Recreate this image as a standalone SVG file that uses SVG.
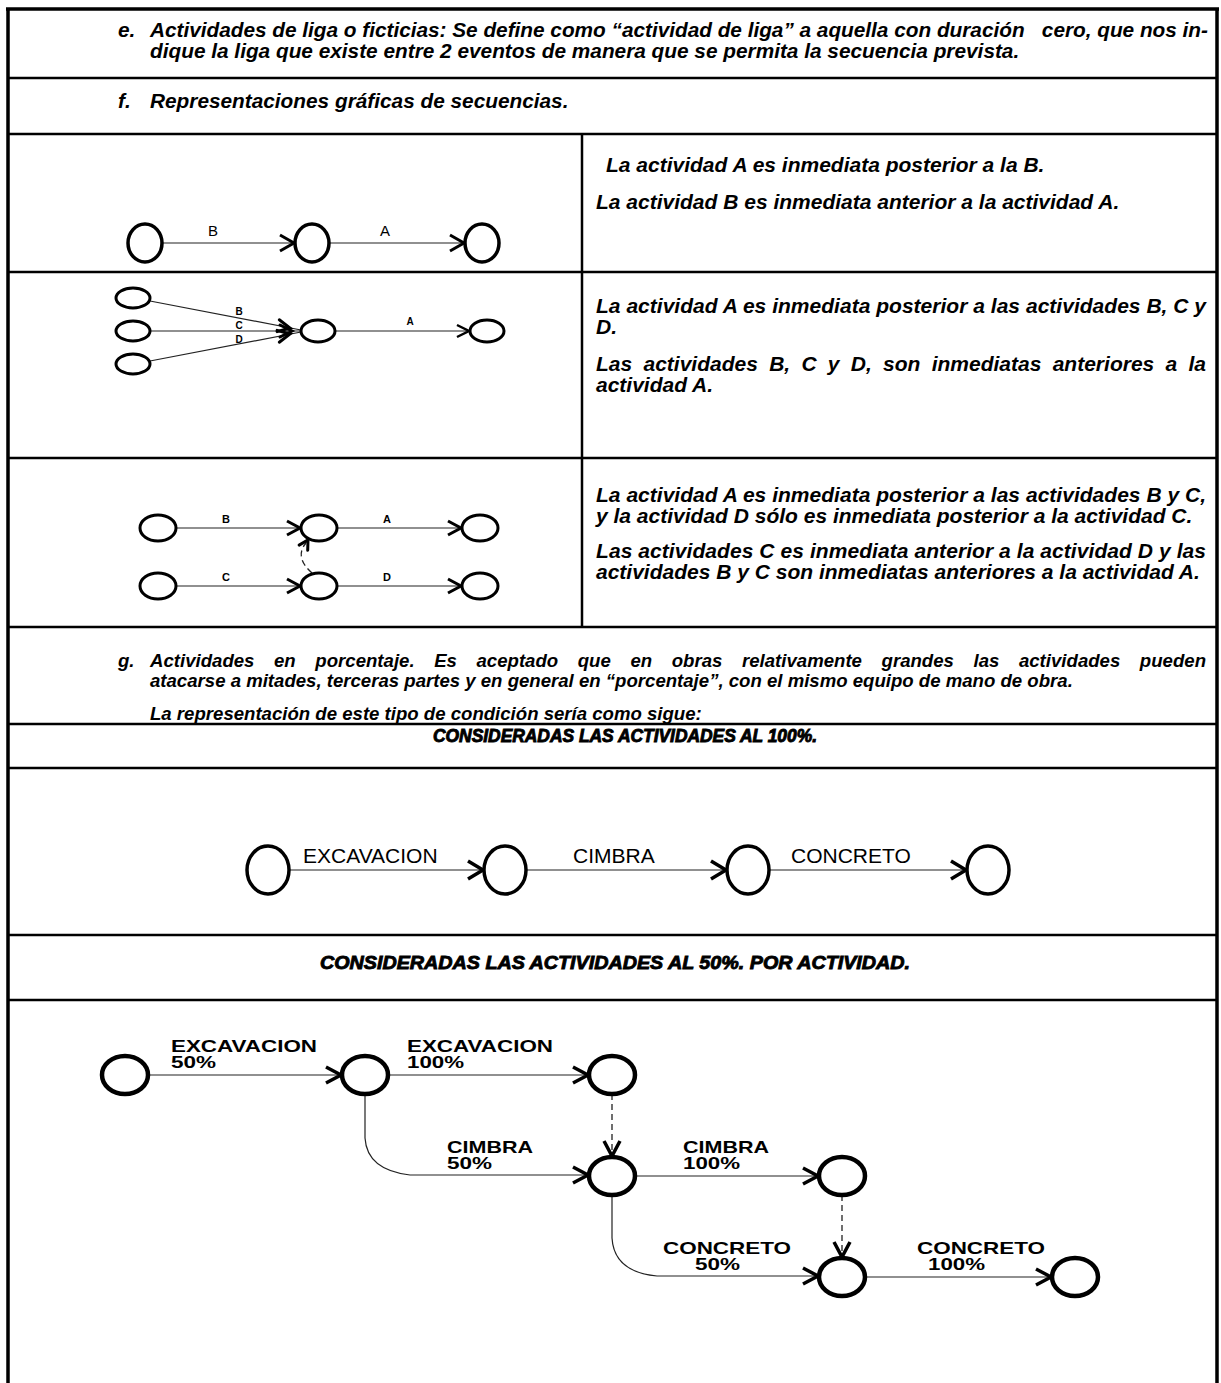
<svg xmlns="http://www.w3.org/2000/svg" width="1221" height="1383" viewBox="0 0 1221 1383">
<style>
.frame{stroke:#000;stroke-width:2.5;fill:none}
.border{stroke:#000;stroke-width:3.5;fill:none}
.t{font-family:"Liberation Sans",Arial,sans-serif;font-weight:bold;font-style:italic;font-size:20.8px;fill:#000}
.r{font-size:21px}
.g{font-size:18.6px}
.h{font-family:"Liberation Sans",Arial,sans-serif;font-weight:bold;font-style:italic;fill:#000;stroke:#000;stroke-width:0.9;text-anchor:middle}
.n1{fill:#fff;stroke:#000;stroke-width:3.5}
.n2{fill:#fff;stroke:#000;stroke-width:3}
.n5{fill:#fff;stroke:#000;stroke-width:4.5}
.c{fill:none;stroke:#222;stroke-width:1.2}
.d{fill:none;stroke:#222;stroke-width:1.3;stroke-dasharray:6 4}
.hd{fill:none;stroke:#000;stroke-width:3;stroke-linecap:round;stroke-linejoin:miter}
.l1{font-family:"Liberation Sans",Arial,sans-serif;font-size:15px;fill:#000;text-anchor:middle}
.l2{font-family:"Liberation Sans",Arial,sans-serif;font-size:10px;font-weight:bold;fill:#000;text-anchor:middle}
.l3{font-family:"Liberation Sans",Arial,sans-serif;font-size:11px;font-weight:bold;fill:#000;text-anchor:middle}
.l4{font-family:"Liberation Sans",Arial,sans-serif;font-size:21px;fill:#000}
.l5{font-family:"Liberation Sans",Arial,sans-serif;font-size:16.5px;font-weight:bold;fill:#000}
</style>
<defs>
<marker id="a1" viewBox="-2 -2 22 22" markerWidth="22" markerHeight="22" refX="16" refY="9" orient="auto" markerUnits="userSpaceOnUse"><path d="M2,1 L16,9 L2,17" fill="none" stroke="#000" stroke-width="3"/></marker>
<marker id="a2" viewBox="-2 -2 20 20" markerWidth="20" markerHeight="20" refX="13" refY="7" orient="auto" markerUnits="userSpaceOnUse"><path d="M1,1 L13,7 L1,13" fill="none" stroke="#000" stroke-width="2.5"/></marker>
<marker id="a3" viewBox="-2 -2 20 20" markerWidth="20" markerHeight="20" refX="14" refY="8" orient="auto" markerUnits="userSpaceOnUse"><path d="M1,1 L14,8 L1,15" fill="none" stroke="#000" stroke-width="3"/></marker>
<marker id="a4" viewBox="-2 -2 24 24" markerWidth="24" markerHeight="24" refX="17" refY="10" orient="auto" markerUnits="userSpaceOnUse"><path d="M2,1 L17,10 L2,19" fill="none" stroke="#000" stroke-width="3.5"/></marker>
<marker id="a5" viewBox="-2 -2 24 24" markerWidth="24" markerHeight="24" refX="17" refY="9" orient="auto" markerUnits="userSpaceOnUse"><path d="M2,1 L17,9 L2,17" fill="none" stroke="#000" stroke-width="3.5"/></marker>
</defs>
<rect width="1221" height="1383" fill="#fff"/>

<g id="frame">
<path class="border" d="M6,9 H1219 M8,8 V1383 M1217,8 V1383"/>
<path class="frame" d="M8,78 H1217 M8,134 H1217 M8,272 H1217 M8,458 H1217 M8,627 H1217 M8,724 H1217 M8,768 H1217 M8,935 H1217 M8,1000 H1217 M582,134 V627"/>
</g>

<g id="texts">
<text class="t" x="118" y="37">e.</text>
<text class="t" x="150" y="37" xml:space="preserve" textLength="1058" lengthAdjust="spacing">Actividades de liga o ficticias: Se define como “actividad de liga” a aquella con duración   cero, que nos in-</text>
<text class="t" x="150" y="58">dique la liga que existe entre 2 eventos de manera que se permita la secuencia prevista.</text>
<text class="t" x="118" y="108">f.</text>
<text class="t" x="150" y="108">Representaciones gráficas de secuencias.</text>

<text class="t r" x="606" y="172">La actividad A es inmediata posterior a la B.</text>
<text class="t r" x="596" y="209">La actividad B es inmediata anterior a la actividad A.</text>

<text class="t r" x="596" y="313" textLength="610" lengthAdjust="spacing">La actividad A es inmediata posterior a las actividades B, C y</text>
<text class="t r" x="596" y="334">D.</text>
<text class="t r" x="596" y="371" word-spacing="5.4" textLength="610" lengthAdjust="spacing">Las actividades B, C y D, son inmediatas anteriores a la</text>
<text class="t r" x="596" y="392">actividad A.</text>

<text class="t r" x="596" y="502" textLength="610" lengthAdjust="spacing">La actividad A es inmediata posterior a las actividades B y C,</text>
<text class="t r" x="596" y="523">y la actividad D sólo es inmediata posterior a la actividad C.</text>
<text class="t r" x="596" y="558" textLength="610" lengthAdjust="spacing">Las actividades C es inmediata anterior a la actividad D y las</text>
<text class="t r" x="596" y="579">actividades B y C son inmediatas anteriores a la actividad A.</text>

<text class="t g" x="118" y="667">g.</text>
<text class="t g" x="150" y="667" word-spacing="14.4" textLength="1056" lengthAdjust="spacing">Actividades en porcentaje. Es aceptado que en obras relativamente grandes las actividades pueden</text>
<text class="t g" x="150" y="687">atacarse a mitades, terceras partes y en general en “porcentaje”, con el mismo equipo de mano de obra.</text>
<text class="t g" x="150" y="720">La representación de este tipo de condición sería como sigue:</text>

<text class="h" x="625" y="742" font-size="17.5" textLength="384" lengthAdjust="spacingAndGlyphs">CONSIDERADAS LAS ACTIVIDADES AL 100%.</text>
<text class="h" x="615" y="969" font-size="19" textLength="590" lengthAdjust="spacingAndGlyphs">CONSIDERADAS LAS ACTIVIDADES AL 50%. POR ACTIVIDAD.</text>
</g>

<g id="connectors">
<path class="c" d="M162,243 H294" marker-end="url(#a1)"/>
<path class="c" d="M329,243 H464" marker-end="url(#a1)"/>
<path class="c" d="M150,301 L301,330"/>
<path class="c" d="M150,331 L301,331"/>
<path class="c" d="M150,361 L301,332"/>
<polyline class="hd" stroke-width="2.5" points="279.3,319.8 290,328 277.1,331.6"/>
<polyline class="hd" stroke-width="2.5" points="280,325 292,331 280,337"/>
<polyline class="hd" stroke-width="2.5" points="277.1,330.4 290,334 279.3,342.2"/>
<path class="c" d="M335,331 H469" marker-end="url(#a2)"/>
<path class="c" d="M176,528 H300" marker-end="url(#a3)"/>
<path class="c" d="M337,528 H461" marker-end="url(#a3)"/>
<path class="c" d="M176,586 H300" marker-end="url(#a3)"/>
<path class="c" d="M337,586 H461" marker-end="url(#a3)"/>
<path class="d" d="M312,573 Q294,557 306,543"/>
<polyline class="hd" points="299.1,545.1 308,540 307.7,550.3"/>
<path class="c" d="M289,870 H483" marker-end="url(#a4)"/>
<path class="c" d="M526,870 H726" marker-end="url(#a4)"/>
<path class="c" d="M769,870 H966" marker-end="url(#a4)"/>
<path class="c" d="M148,1075 H341" marker-end="url(#a5)"/>
<path class="c" d="M388,1075 H588" marker-end="url(#a5)"/>
<path class="d" d="M612,1094 V1156" marker-end="url(#a5)"/>
<path class="c" d="M365,1094 V1138 Q367,1170 410,1175 H588" marker-end="url(#a5)"/>
<path class="c" d="M635,1176 H818" marker-end="url(#a5)"/>
<path class="d" d="M842,1195 V1257" marker-end="url(#a5)"/>
<path class="c" d="M612,1195 V1238 Q614,1272 657,1276 H818" marker-end="url(#a5)"/>
<path class="c" d="M865,1277 H1051" marker-end="url(#a5)"/>
</g>

<g id="labels">
<text class="l1" x="213" y="236">B</text>
<text class="l1" x="385" y="236">A</text>
<text class="l2" x="239" y="315">B</text>
<text class="l2" x="239" y="329">C</text>
<text class="l2" x="239" y="343">D</text>
<text class="l2" x="410" y="325">A</text>
<text class="l3" x="226" y="523">B</text>
<text class="l3" x="387" y="523">A</text>
<text class="l3" x="226" y="581">C</text>
<text class="l3" x="387" y="581">D</text>
<text class="l4" x="303" y="863">EXCAVACION</text>
<text class="l4" x="573" y="863">CIMBRA</text>
<text class="l4" x="791" y="863">CONCRETO</text>
<text class="l5" x="171" y="1052" textLength="146" lengthAdjust="spacingAndGlyphs">EXCAVACION</text>
<text class="l5" x="171" y="1068" textLength="45" lengthAdjust="spacingAndGlyphs">50%</text>
<text class="l5" x="407" y="1052" textLength="146" lengthAdjust="spacingAndGlyphs">EXCAVACION</text>
<text class="l5" x="407" y="1068" textLength="57" lengthAdjust="spacingAndGlyphs">100%</text>
<text class="l5" x="447" y="1153" textLength="86" lengthAdjust="spacingAndGlyphs">CIMBRA</text>
<text class="l5" x="447" y="1169" textLength="45" lengthAdjust="spacingAndGlyphs">50%</text>
<text class="l5" x="683" y="1153" textLength="86" lengthAdjust="spacingAndGlyphs">CIMBRA</text>
<text class="l5" x="683" y="1169" textLength="57" lengthAdjust="spacingAndGlyphs">100%</text>
<text class="l5" x="663" y="1254" textLength="128" lengthAdjust="spacingAndGlyphs">CONCRETO</text>
<text class="l5" x="695" y="1270" textLength="45" lengthAdjust="spacingAndGlyphs">50%</text>
<text class="l5" x="917" y="1254" textLength="128" lengthAdjust="spacingAndGlyphs">CONCRETO</text>
<text class="l5" x="928" y="1270" textLength="57" lengthAdjust="spacingAndGlyphs">100%</text>
</g>

<g id="nodes">
<g id="s1-n1"><ellipse class="n1" cx="145" cy="243" rx="17" ry="19"/></g>
<g id="s1-n2"><ellipse class="n1" cx="312" cy="243" rx="17" ry="19"/></g>
<g id="s1-n3"><ellipse class="n1" cx="482" cy="243" rx="17" ry="19"/></g>

<g id="s2-nB"><ellipse class="n2" cx="133" cy="298" rx="17" ry="10"/></g>
<g id="s2-nC"><ellipse class="n2" cx="133" cy="331" rx="17" ry="10"/></g>
<g id="s2-nD"><ellipse class="n2" cx="133" cy="364" rx="17" ry="10"/></g>
<g id="s2-n2"><ellipse class="n2" cx="318" cy="331" rx="17" ry="11"/></g>
<g id="s2-n3"><ellipse class="n2" cx="487" cy="331" rx="17" ry="11"/></g>

<g id="s3-n1"><ellipse class="n2" cx="158" cy="528" rx="18" ry="13"/></g>
<g id="s3-n2"><ellipse class="n2" cx="319" cy="528" rx="18" ry="13"/></g>
<g id="s3-n3"><ellipse class="n2" cx="480" cy="528" rx="18" ry="13"/></g>
<g id="s3-n4"><ellipse class="n2" cx="158" cy="586" rx="18" ry="13"/></g>
<g id="s3-n5"><ellipse class="n2" cx="319" cy="586" rx="18" ry="13"/></g>
<g id="s3-n6"><ellipse class="n2" cx="480" cy="586" rx="18" ry="13"/></g>

<g id="p100-n1"><ellipse class="n1" cx="268" cy="870" rx="21" ry="24"/></g>
<g id="p100-n2"><ellipse class="n1" cx="505" cy="870" rx="21" ry="24"/></g>
<g id="p100-n3"><ellipse class="n1" cx="748" cy="870" rx="21" ry="24"/></g>
<g id="p100-n4"><ellipse class="n1" cx="988" cy="870" rx="21" ry="24"/></g>

<g id="p50-A"><ellipse class="n5" cx="125" cy="1075" rx="23" ry="19"/></g>
<g id="p50-B"><ellipse class="n5" cx="365" cy="1075" rx="23" ry="19"/></g>
<g id="p50-C"><ellipse class="n5" cx="612" cy="1075" rx="23" ry="19"/></g>
<g id="p50-D"><ellipse class="n5" cx="612" cy="1176" rx="23" ry="19"/></g>
<g id="p50-E"><ellipse class="n5" cx="842" cy="1176" rx="23" ry="19"/></g>
<g id="p50-F"><ellipse class="n5" cx="842" cy="1277" rx="23" ry="19"/></g>
<g id="p50-G"><ellipse class="n5" cx="1075" cy="1277" rx="23" ry="19"/></g>
</g>
</svg>
